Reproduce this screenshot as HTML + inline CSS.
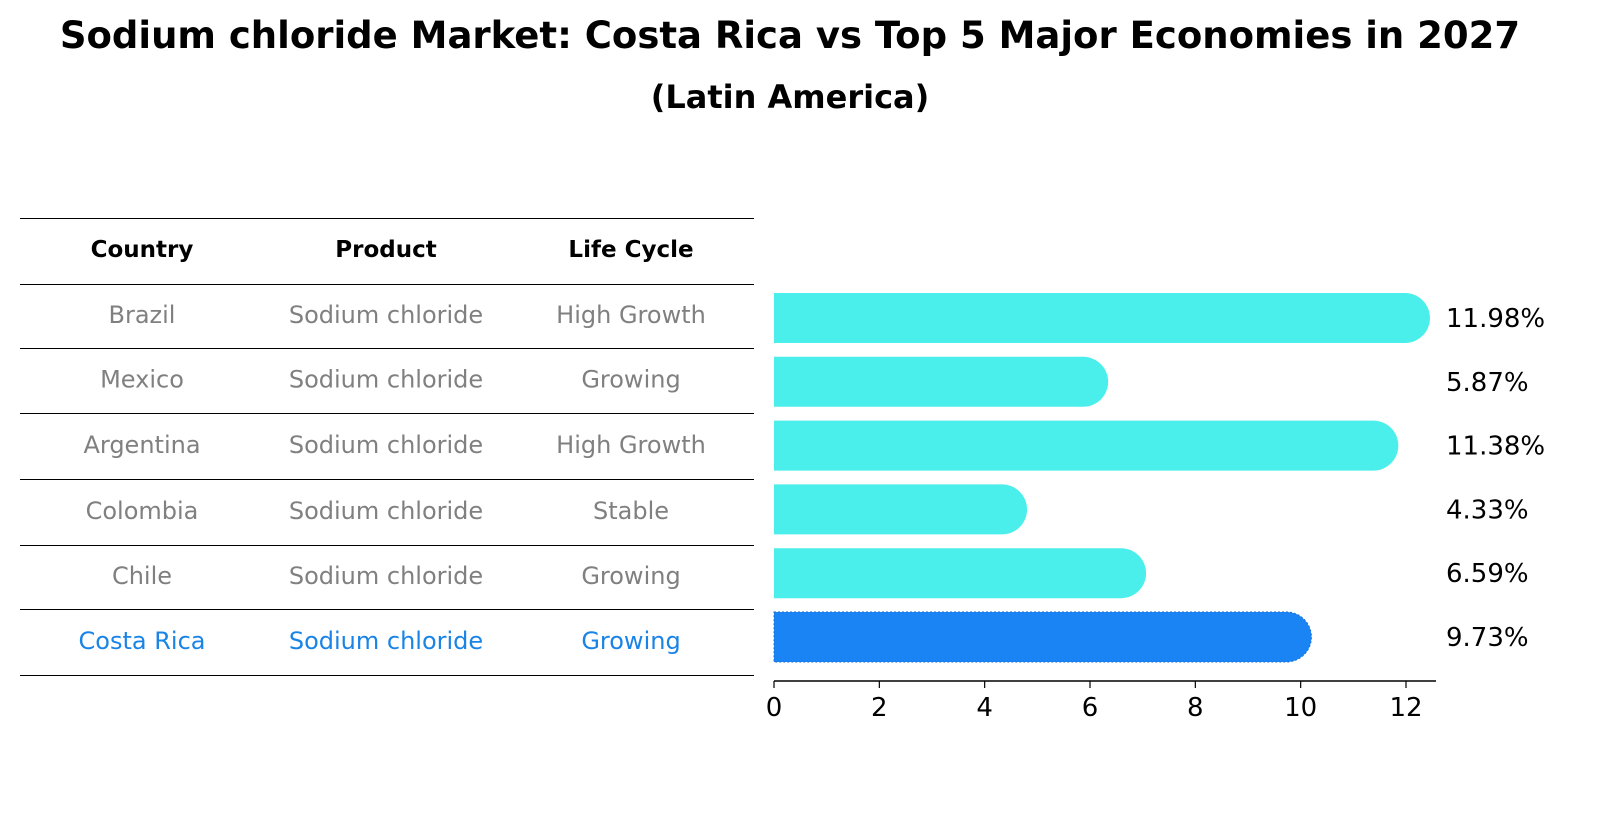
<!DOCTYPE html>
<html><head><meta charset="utf-8"><style>
html,body{margin:0;padding:0;overflow:hidden;background:#fff;width:1604px;height:823px;}
svg{display:block;}
</style></head><body>
<svg width="1604" height="823" xmlns="http://www.w3.org/2000/svg" font-family="DejaVu Sans, Liberation Sans, sans-serif">
<text x="790" y="48" text-anchor="middle" font-size="37" font-weight="bold">Sodium chloride Market: Costa Rica vs Top 5 Major Economies in 2027</text>
<text x="790" y="108" text-anchor="middle" font-size="32" font-weight="bold">(Latin America)</text>
<g id="table"></g>
<g id="bars"></g>
</svg>
<script>
const countries=["Brazil","Mexico","Argentina","Colombia","Chile","Costa Rica"];
const products=["Sodium chloride","Sodium chloride","Sodium chloride","Sodium chloride","Sodium chloride","Sodium chloride"];
const lifecycle=["High Growth","Growing","High Growth","Stable","Growing","Growing"];
const values=[11.98,5.87,11.38,4.33,6.59,9.73];
const ticks=[0,2,4,6,8,10,12];
const NS="http://www.w3.org/2000/svg";
function mk(t,a,p,txt){const e=document.createElementNS(NS,t);for(const k in a)e.setAttribute(k,a[k]);if(txt!=null)e.textContent=txt;p.appendChild(e);return e;}
const tb=document.getElementById('table');
const lines=[218,284,348,413,479,545,609,675];
lines.forEach(y=>{const l=mk('line',{x1:20,x2:754,y1:y+0.5,y2:y+0.5,stroke:'#000','stroke-width':1},tb);

});
const cx=[142,386,631];
["Country","Product","Life Cycle"].forEach((h,i)=>{const t=mk('text',{x:cx[i],y:257,'text-anchor':'middle','font-size':23,'font-weight':'bold'},tb,h);

});
countries.forEach((c,r)=>{const y=(lines[r+1]+lines[r+2])/2+7;const col=r===5?'#1a84e6':'#808080';
[c,products[r],lifecycle[r]].forEach((v,i)=>{const t=mk('text',{x:cx[i],y:y,'text-anchor':'middle','font-size':24,fill:col},tb,v);

});});
const bg=document.getElementById('bars');
const x0=774,sc=(1406-774)/12;
const X=v=>x0+v*sc;
const Y=i=>318+i*63.8;
values.forEach((v,i)=>{const top=Y(i)-25,xe=X(v);
const d=`M${x0},${top} H${xe} A25,25 0 0 1 ${xe},${top+50} H${x0} Z`;
const p=mk('path',{d:d,fill:i===5?'#1a84f5':'#4aeeea'},bg);
if(i===5){p.setAttribute('stroke','#1a6fd6');p.setAttribute('stroke-dasharray','2,2');p.setAttribute('stroke-width','1');}


const t=mk('text',{x:1446,y:Y(i)+9,'font-size':26},bg,v.toFixed(2)+'%');

});
const ax=mk('line',{x1:774,x2:1436,y1:681,y2:681,stroke:'#000','stroke-width':1.5},bg);


ticks.forEach(t=>{mk('line',{x1:X(t),x2:X(t),y1:681,y2:688,stroke:'#000','stroke-width':1.2},bg);
const l=mk('text',{x:X(t),y:716,'text-anchor':'middle','font-size':26},bg,t);

});
</script>
</body></html>
